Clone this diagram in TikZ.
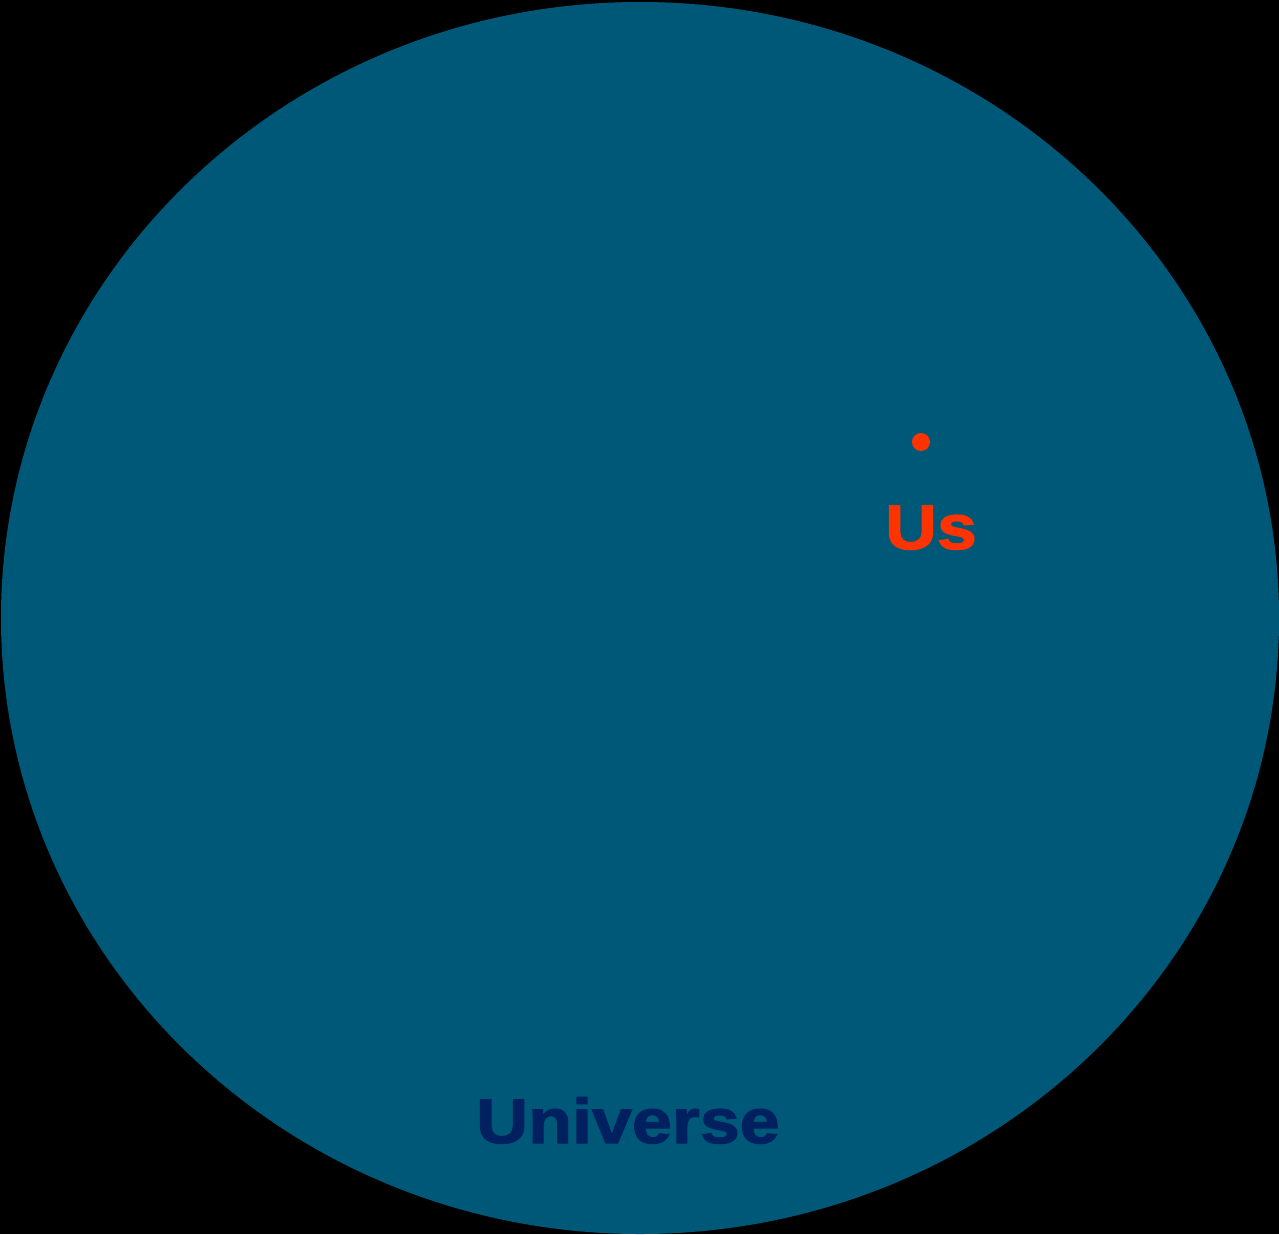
\documentclass[tikz,border=0pt]{standalone}
\usepackage{fontspec}
\usetikzlibrary{shapes.geometric}
\setmainfont{Liberation Sans}[FakeBold=2,FakeStretch=1.14]
\definecolor{bg}{HTML}{000000}
\definecolor{uni}{HTML}{005878}
\definecolor{usred}{HTML}{FF3300}
\definecolor{navy}{HTML}{002060}
\tikzset{
  lbl/.style={font=\bfseries\fontsize{63}{70}\selectfont, inner sep=0pt, anchor=base}
}
\begin{document}
\begin{tikzpicture}[x=1pt,y=-1pt]
\fill[bg] (0,0) rectangle (1279,1234);
\useasboundingbox (0,0) rectangle (1279,1234);
\node[ellipse, fill=uni, minimum width=1278pt, minimum height=1232pt, inner sep=0pt] (universe) at (640,618) {};
\node[circle, fill=usred, minimum size=18pt, inner sep=0pt] (dot) at (921,442) {};
\node[lbl, text=usred] (us) at (931,549) {Us};
\node[lbl, text=navy] (unilabel) at (628,1143) {Universe};
\end{tikzpicture}
\end{document}
